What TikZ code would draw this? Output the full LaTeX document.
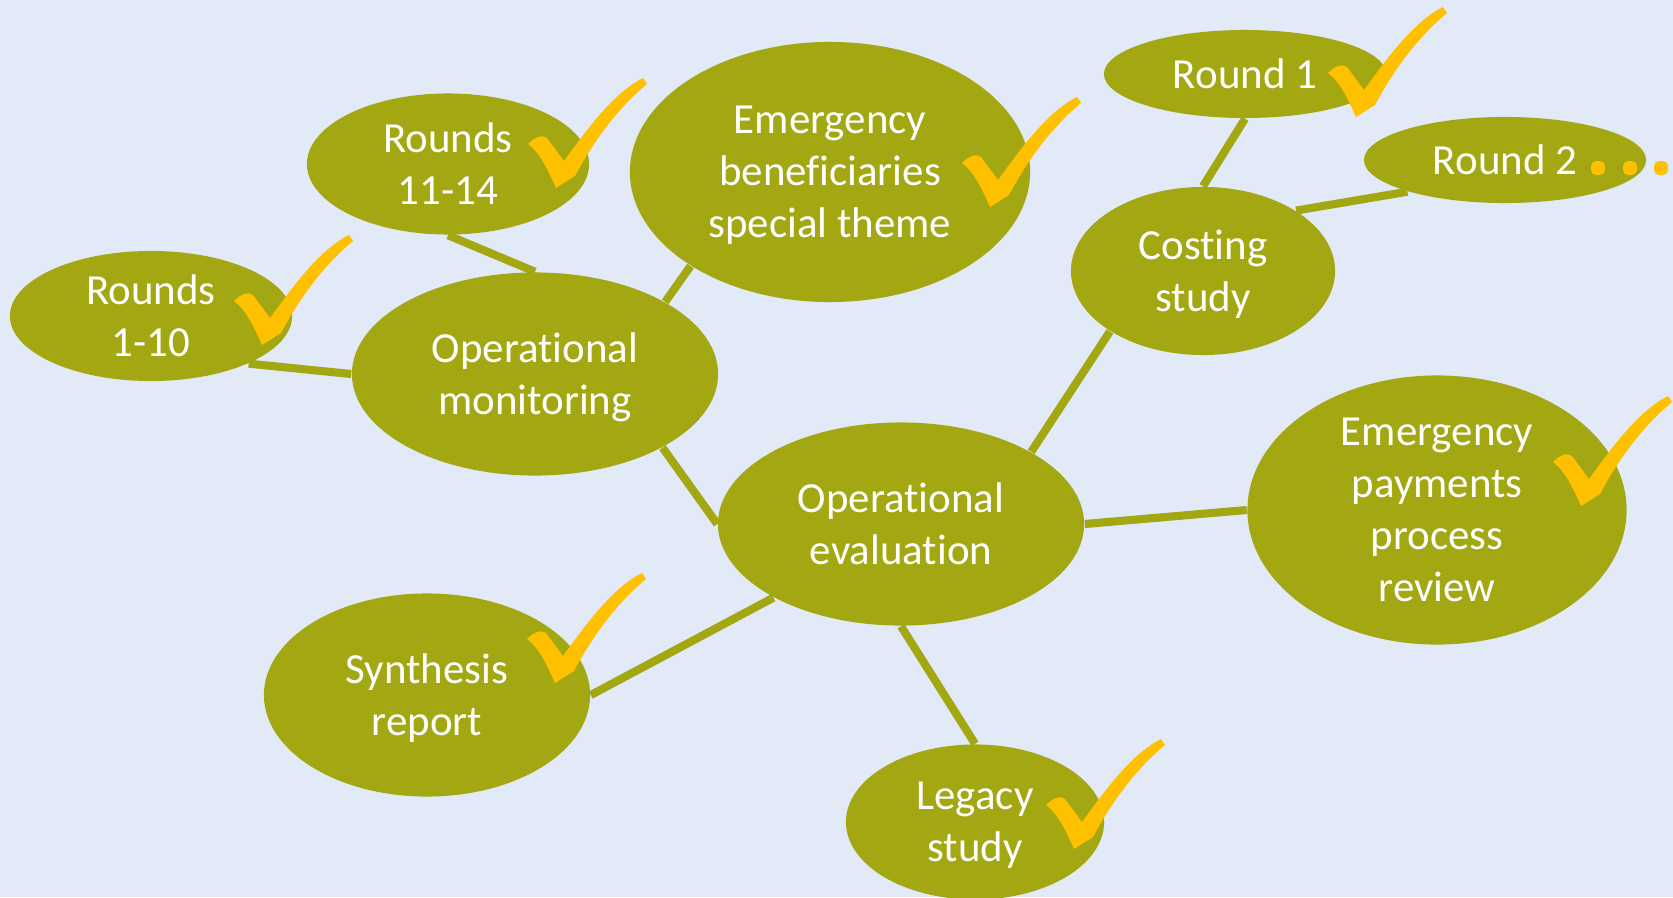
\documentclass[tikz,border=0pt]{standalone}
\usepackage{fontspec}
\setmainfont{Carlito}[Ligatures=NoCommon]
\usetikzlibrary{shapes.geometric}
\definecolor{bgblue}{RGB}{225,234,246}
\definecolor{olive}{RGB}{163,167,17}
\definecolor{tickyellow}{RGB}{255,192,0}
\tikzset{
  bubble/.style={ellipse, fill=olive, text=white, inner sep=0pt, align=center,
    text depth=0pt, font=\fontsize{12.2}{14.8}\selectfont},
  link/.style={draw=olive, line width=2.3pt},
  tick/.pic={\fill[tickyellow] (-27,-44) .. controls (-20,-51) and (-13,-54) .. (-8,-50)
      -- (9,-27) .. controls (35,-63) and (60,-96) .. (88,-110) -- (92,-104)
      .. controls (62,-79) and (38,-46) .. (20,-12) -- (1,0)
      .. controls (-7,-18) and (-15,-35) .. (-27,-44) -- cycle;}
}
\begin{document}
\begin{tikzpicture}[x=0.01cm, y=-0.01cm]
  \fill[bgblue] (0,0) rectangle (1673,897);
  \useasboundingbox (0,0) rectangle (1673,897);

  % bubbles
  \node[bubble, minimum width=2.82cm, minimum height=1.30cm] (r110) at (151,316) {Rounds\\1-10};
  \node[bubble, minimum width=2.82cm, minimum height=1.41cm] (r1114) at (448,164) {Rounds\\11-14};
  \node[bubble, minimum width=4.00cm, minimum height=2.60cm] (embenef) at (830,172) {Emergency\\beneficiaries\\special theme};
  \node[bubble, minimum width=3.66cm, minimum height=2.03cm] (opmon) at (535,374) {Operational\\monitoring};
  \node[bubble, minimum width=3.66cm, minimum height=2.03cm] (opeval) at (901,524) {Operational\\evaluation};
  \node[bubble, minimum width=3.26cm, minimum height=2.03cm] (synth) at (427,695) {Synthesis\\report};
  \node[bubble, minimum width=2.58cm, minimum height=1.55cm] (legacy) at (975,822) {Legacy\\study};
  \node[bubble, minimum width=3.79cm, minimum height=2.69cm] (empay) at (1437,510) {Emergency\\payments\\process\\review};
  \node[bubble, minimum width=2.64cm, minimum height=1.68cm] (costing) at (1203,271) {Costing\\study};
  \node[bubble, minimum width=2.82cm, minimum height=0.88cm] (round1) at (1245,74) {Round 1};
  \node[bubble, minimum width=2.82cm, minimum height=0.86cm] (round2) at (1505,160) {Round 2};

  % links
  \draw[link] (r110.-26) -- (opmon.west);
  \draw[link] (r1114.south) -- (opmon.north);
  \draw[link] (opmon.29) -- (embenef.-146);
  \draw[link] (opmon.-30) -- (opeval.west);
  \draw[link] (opeval.-150) -- (synth.east);
  \draw[link] (opeval.south) -- (legacy.north);
  \draw[link] (opeval.east) -- (empay.west);
  \draw[link] (opeval.29) -- (costing.-147);
  \draw[link] (costing.north) -- (round1.south);
  \draw[link] (costing.33) -- (round2.-162);

  % ticks
  \pic at (261,345) {tick};
  \pic at (555,188) {tick};
  \pic at (989,207) {tick};
  \pic at (1355,117) {tick};
  \pic at (1580,506) {tick};
  \pic at (554,683) {tick};
  \pic at (1073,849) {tick};

  % more rounds
  \foreach \dx in {1598,1630,1661}
    \fill[tickyellow, rounded corners=1.5pt] (\dx-7,161) rectangle (\dx+7,175);
\end{tikzpicture}
\end{document}
